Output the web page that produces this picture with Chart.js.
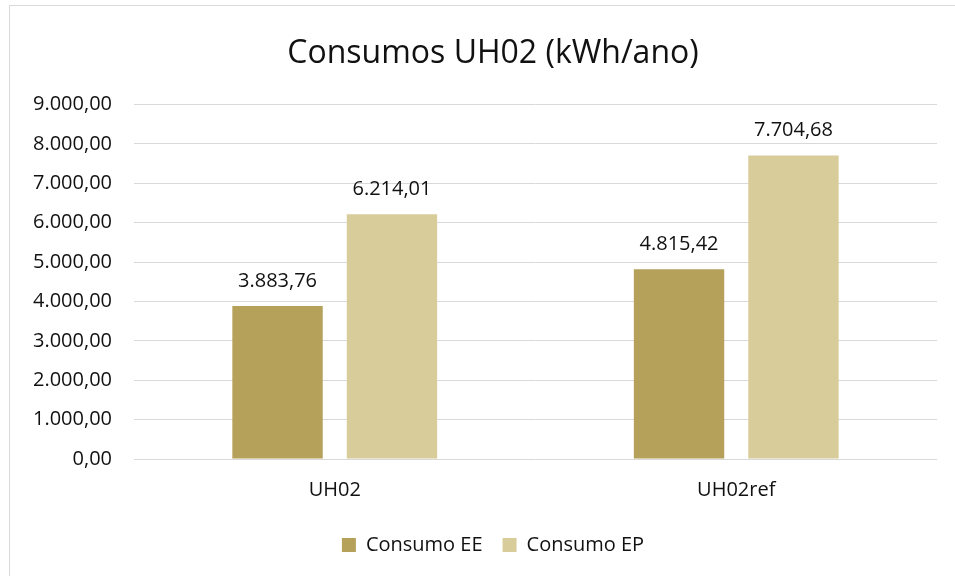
<!DOCTYPE html>
<html>
<head>
  <title>Consumos UH02</title>
  <script src="https://cdn.jsdelivr.net/npm/chart.js@4"></script>
  <style>
    body { margin: 0; background: #fff; overflow: hidden; }
    #box {
      position: absolute;
      left: 9px;
      top: 5px;
      width: 966px;
      height: 570px;
      border-left: 1px solid #d9d9d9;
      border-top: 1px solid #d9d9d9;
    }
  </style>
</head>
<body>

<div id="box"><canvas id="consumos" width="966" height="570"></canvas></div>

<script>
  // dados
  const categorias = ['UH02', 'UH02ref'];
  const consumoEE = [3883.76, 4815.42];
  const consumoEP = [6214.01, 7704.68];
  const yTicks = [0, 1000, 2000, 3000, 4000, 5000, 6000, 7000, 8000, 9000];

  function fmt(v) {
    const parts = v.toFixed(2).split('.');
    const inteiro = parts[0].replace(/\B(?=(\d{3})+(?!\d))/g, '.');
    return inteiro + ',' + parts[1];
  }

  const FONT = "'Open Sans', sans-serif";

  // rotulos de valores em cima das barras
  const rotulos = {
    id: 'rotulos',
    afterDatasetsDraw(chart) {
      const ctx = chart.ctx;
      ctx.save();
      ctx.font = "20px " + FONT;
      ctx.fillStyle = '#111';
      ctx.textAlign = 'center';
      ctx.textBaseline = 'alphabetic';
      chart.data.datasets.forEach((ds, i) => {
        chart.getDatasetMeta(i).data.forEach((bar, j) => {
          ctx.fillText(fmt(ds.data[j]), bar.x, bar.y - 19);
        });
      });
      ctx.restore();
    }
  };

  new Chart(document.getElementById('consumos').getContext('2d'), {
    type: 'bar',
    data: {
      labels: categorias,
      datasets: [
        {
          label: 'Consumo EE',
          data: consumoEE,
          backgroundColor: '#b5a15a',
          categoryPercentage: 0.57,
          barPercentage: 0.79
        },
        {
          label: 'Consumo EP',
          data: consumoEP,
          backgroundColor: '#d9cc9b',
          categoryPercentage: 0.57,
          barPercentage: 0.79
        }
      ]
    },
    options: {
      responsive: false,
      animation: false,
      layout: { padding: { top: 29, right: 0, bottom: 11, left: 0 } },
      plugins: {
        title: {
          display: true,
          text: 'Consumos UH02 (kWh/ano)',
          color: '#111',
          font: { family: FONT, size: 32, weight: 'normal' },
          padding: { top: 0, bottom: 31 }
        },
        legend: {
          position: 'bottom',
          labels: {
            color: '#111',
            font: { family: FONT, size: 20 },
            boxWidth: 14,
            boxHeight: 14,
            padding: 20
          }
        },
        tooltip: { enabled: false }
      },
      scales: {
        x: {
          grid: { display: false, drawTicks: false },
          border: { display: false },
          ticks: { color: '#111', font: { family: FONT, size: 20 }, padding: 19 },
          afterFit(scale) { scale.height = 56; }
        },
        y: {
          min: 0,
          max: 9000,
          afterBuildTicks(scale) { scale.ticks = yTicks.map(v => ({ value: v })); },
          grid: { color: '#d9d9d9', lineWidth: 1, drawTicks: false },
          border: { display: false },
          ticks: {
            color: '#111',
            font: { family: FONT, size: 20 },
            padding: 22,
            callback: v => fmt(v)
          },
          afterFit(scale) { scale.width = 124; }
        },
        // eixo vazio a direita, so para reservar espaco
        margem: {
          position: 'right',
          grid: { display: false, drawTicks: false },
          border: { display: false },
          ticks: { display: false },
          afterFit(scale) { scale.width = 39; }
        }
      }
    },
    plugins: [rotulos]
  });
</script>

</body>
</html>
